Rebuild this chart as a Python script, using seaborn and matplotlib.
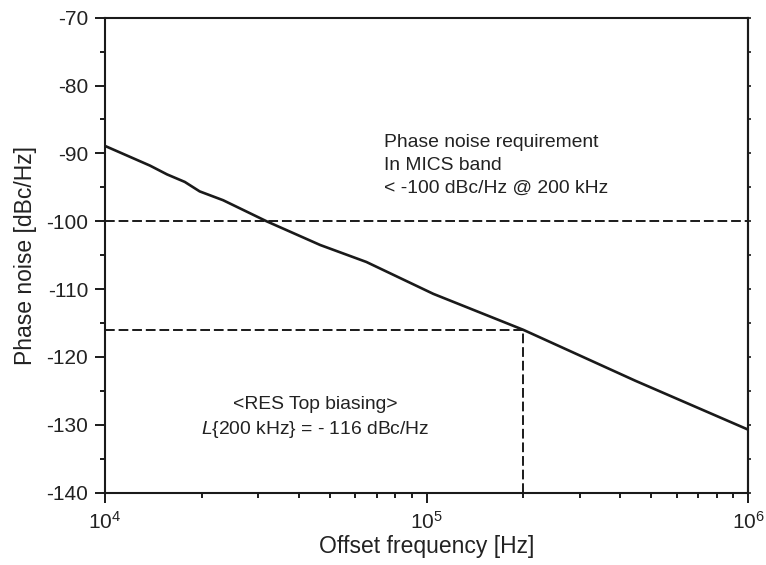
import matplotlib
matplotlib.use("Agg")
import matplotlib.pyplot as plt
import pandas as pd
import seaborn as sns
from matplotlib.ticker import LogLocator, MultipleLocator, NullFormatter, FixedLocator

# Measured phase noise of the RES top-biased oscillator
offset_hz = [1.0e4, 1.38e4, 1.56e4, 1.77e4, 1.97e4, 2.33e4, 3.18e4, 4.67e4,
             6.5e4, 1.05e5, 2.0e5, 4.46e5, 1.0e6]
phase_noise_dbc = [-88.9, -91.8, -93.1, -94.2, -95.6, -96.9, -100.0, -103.5,
                   -106.0, -110.7, -116.0, -123.5, -130.7]

# MICS band requirement and the reading at 200 kHz
spec_limit_dbc = -100
spec_offset_hz = 2.0e5
measured_dbc = -116

y_ticks = [-140, -130, -120, -110, -100, -90, -80, -70]
x_ticks = [1e4, 1e5, 1e6]

sns.set_theme(style="white")
plt.rcParams["font.family"] = ["Liberation Sans", "DejaVu Sans"]
plt.rcParams["mathtext.fontset"] = "custom"
plt.rcParams["mathtext.rm"] = "Liberation Sans"
plt.rcParams["mathtext.it"] = "Liberation Sans:italic"
plt.rcParams["mathtext.bf"] = "Liberation Sans:bold"
plt.rcParams["axes.unicode_minus"] = False

fig = plt.figure(figsize=(7.66, 5.65), dpi=100)
ax = fig.add_axes([0.1371, 0.1280, 0.8394, 0.8407])

df = pd.DataFrame({"Offset frequency [Hz]": offset_hz,
                   "Phase noise [dBc/Hz]": phase_noise_dbc})
sns.lineplot(data=df, x="Offset frequency [Hz]", y="Phase noise [dBc/Hz]",
             ax=ax, color="#1a1a1a", linewidth=1.9)

dash = dict(color="#1a1a1a", linewidth=1.4, linestyle=(0, (5, 2)))
ax.axhline(spec_limit_dbc, **dash)
ax.hlines(measured_dbc, offset_hz[0], spec_offset_hz, **dash)
ax.vlines(spec_offset_hz, -140, measured_dbc, **dash)

ax.set_xscale("log")
ax.set_xlim(1e4, 1e6)
ax.set_ylim(-140, -70)
ax.xaxis.set_major_locator(FixedLocator(x_ticks))
ax.xaxis.set_minor_locator(LogLocator(base=10, subs=range(2, 10)))
ax.xaxis.set_minor_formatter(NullFormatter())
ax.yaxis.set_major_locator(FixedLocator(y_ticks))
ax.yaxis.set_minor_locator(MultipleLocator(5))

for side in ["left", "right", "top", "bottom"]:
    ax.spines[side].set_visible(True)
    ax.spines[side].set_color("#1a1a1a")
    ax.spines[side].set_linewidth(1.5)

ax.tick_params(axis="both", which="both", bottom=True, left=True,
               top=False, right=False)
ax.tick_params(axis="both", which="major", direction="out", length=7, width=1.4,
               colors="#1a1a1a", labelsize=15, labelcolor="#222222")
ax.tick_params(axis="both", which="minor", direction="out", length=3.6, width=1.4,
               colors="#1a1a1a")
ax.tick_params(axis="y", which="major", pad=5)
ax.tick_params(axis="x", which="major", pad=6)

right = ax.secondary_yaxis("right")
right.yaxis.set_major_locator(MultipleLocator(5))
right.tick_params(right=True, direction="out", length=2.2, width=1.2,
                  labelright=False, colors="#1a1a1a")
right.spines["right"].set_linewidth(1.5)

ax.set_xlabel("Offset frequency [Hz]", fontsize=16.5, color="#222222", labelpad=2)
ax.set_ylabel("Phase noise [dBc/Hz]", fontsize=16.5, color="#222222", labelpad=7)

note = dict(fontsize=13.9, color="#222222")
ax.text(7.38e4, -89.05, "Phase noise requirement", ha="left", va="baseline", **note)
ax.text(7.38e4, -92.39, "In MICS band", ha="left", va="baseline", **note)
ax.text(7.38e4, -95.85, "< -100 dBc/Hz @ 200 kHz", ha="left", va="baseline", **note)

ax.text(4.5e4, -127.65, "<RES Top biasing>", ha="center", va="baseline", **note)
ax.text(4.5e4, -131.34, r"$\mathit{L}${200 kHz} = - 116 dBc/Hz",
        ha="center", va="baseline", **note)

fig.savefig("out.png", dpi=100)
